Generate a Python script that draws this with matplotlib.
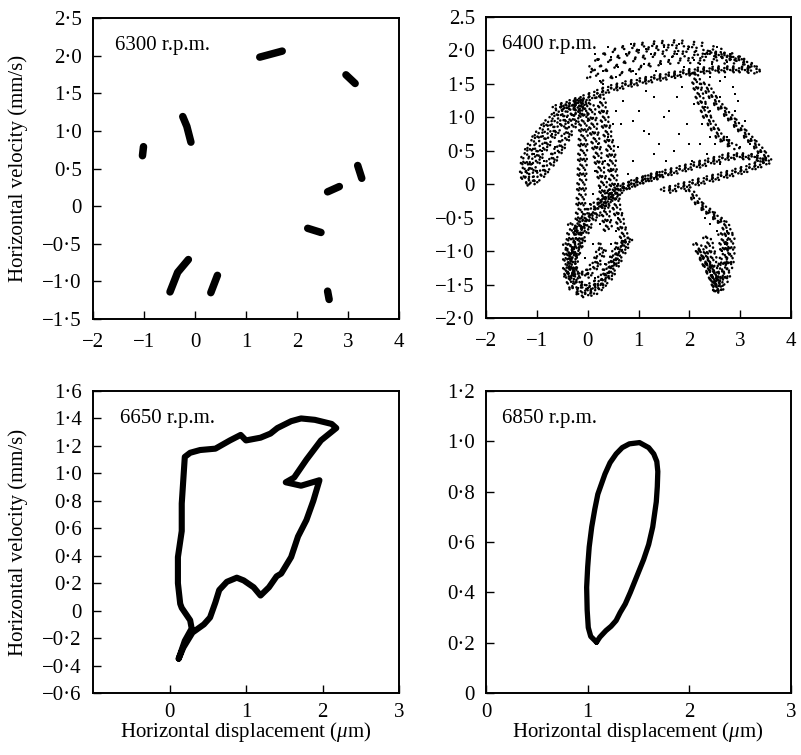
import matplotlib
matplotlib.use("Agg")
import matplotlib.pyplot as plt
import matplotlib.transforms as mtransforms

plt.rcParams["font.family"] = ["Liberation Serif", "DejaVu Serif"]
plt.rcParams["mathtext.fontset"] = "custom"
plt.rcParams["mathtext.rm"] = "Liberation Serif"
plt.rcParams["mathtext.it"] = "Liberation Serif:italic"
plt.rcParams["font.size"] = 15

# ---------------- 6300 r.p.m.: short trajectory fragments (x, y) ----------------
seg_6300 = [
    [(1.27, 1.98), (1.49, 2.02), (1.71, 2.06)],
    [(2.96, 1.745), (3.14, 1.63)],
    [(-0.24, 1.19), (-0.16, 1.06), (-0.08, 0.85)],
    [(-1.01, 0.79), (-1.03, 0.67)],
    [(3.19, 0.54), (3.27, 0.37)],
    [(2.60, 0.19), (2.83, 0.26)],
    [(2.21, -0.295), (2.47, -0.35)],
    [(-0.13, -0.71), (-0.34, -0.88), (-0.49, -1.14)],
    [(0.44, -0.92), (0.31, -1.15)],
    [(2.60, -1.13), (2.63, -1.24)],
]

# ---------------- 6400 r.p.m.: dense bands of the attractor ----------------
bands_6400 = [
    # upper crossing band
    [(-0.63, 1.13), (-0.3, 1.22), (0.0, 1.3), (0.4, 1.42), (0.8, 1.5), (1.3, 1.58),
     (1.8, 1.65), (2.2, 1.7), (2.6, 1.72), (3.0, 1.72), (3.3, 1.70)],
    # hook at the top right
    [(2.4, 1.95), (2.7, 1.93), (2.95, 1.88), (3.15, 1.8), (3.3, 1.72)],
    # left tongue, outer edge
    [(-0.1, 1.25), (-0.5, 1.12), (-0.8, 0.9), (-1.05, 0.65), (-1.22, 0.4),
     (-1.25, 0.15), (-1.2, 0.0)],
    # left tongue, inner edge
    [(-1.15, 0.0), (-0.95, 0.12), (-0.75, 0.3), (-0.5, 0.6), (-0.3, 0.9), (-0.1, 1.2)],
    # left tongue, middle
    [(-1.15, 0.15), (-0.95, 0.45), (-0.7, 0.75), (-0.4, 1.0), (-0.15, 1.2)],
    # vertical strand near x = 0
    [(-0.1, 1.25), (-0.08, 0.9), (-0.1, 0.5), (-0.12, 0.0), (-0.15, -0.5),
     (-0.2, -0.9), (-0.3, -1.2), (-0.38, -1.4)],
    # second vertical strand
    [(0.05, 1.2), (0.12, 0.8), (0.2, 0.4), (0.3, 0.0), (0.35, -0.4), (0.4, -0.7)],
    # third, fainter vertical strand
    [(0.25, 1.3), (0.35, 0.9), (0.45, 0.5), (0.5, 0.1), (0.55, -0.3), (0.65, -0.6),
     (0.75, -0.9)],
    # lower diagonal band
    [(-0.3, -1.1), (0.0, -0.6), (0.3, -0.3), (0.7, -0.05), (1.2, 0.1), (1.7, 0.2),
     (2.2, 0.3), (2.8, 0.42), (3.2, 0.42), (3.55, 0.35)],
    # companion of the diagonal band
    [(-0.2, -0.7), (0.1, -0.35), (0.5, -0.1), (1.0, 0.05), (1.5, 0.15)],
    # right descending band
    [(2.3, 1.5), (2.5, 1.25), (2.8, 1.0), (3.1, 0.75), (3.35, 0.55), (3.55, 0.35)],
    [(2.1, 1.65), (2.2, 1.3), (2.35, 1.0), (2.6, 0.7), (2.9, 0.55)],
    # lower parallel band
    [(1.5, -0.1), (2.0, 0.0), (2.5, 0.1), (3.0, 0.2), (3.5, 0.33)],
    # bottom-left lobe outline
    [(-0.4, -0.9), (-0.4, -1.3), (-0.3, -1.55), (-0.1, -1.65), (0.15, -1.6),
     (0.4, -1.4), (0.6, -1.1), (0.8, -0.8)],
    [(-0.3, -0.6), (-0.35, -1.0), (-0.25, -1.45), (0.0, -1.55), (0.25, -1.45),
     (0.5, -1.15), (0.65, -0.85)],
    # inner U of the lobe
    [(-0.35, -1.25), (-0.2, -1.35), (0.0, -1.35), (0.2, -1.15), (0.3, -0.9)],
    # right tail
    [(2.0, -0.1), (2.2, -0.3), (2.45, -0.45), (2.7, -0.6), (2.8, -0.8), (2.8, -1.1),
     (2.7, -1.4), (2.55, -1.6)],
    [(2.2, -1.0), (2.4, -1.3), (2.55, -1.55)],
    [(2.35, -0.8), (2.45, -1.1), (2.55, -1.6)],
    [(2.65, -0.75), (2.7, -1.05), (2.6, -1.45)],
    [(2.15, -0.9), (2.35, -1.2), (2.5, -1.45), (2.55, -1.6)],
]

# looser arcs forming the hat at the top
hat_arcs_6400 = [
    [(0.05, 1.6), (0.1, 1.8), (0.3, 1.95), (0.7, 2.05), (1.2, 2.1), (1.7, 2.12),
     (2.2, 2.08), (2.6, 1.98), (3.0, 1.85)],
    [(0.1, 1.7), (0.5, 1.88), (1.0, 2.0), (1.5, 2.05), (2.0, 2.02), (2.5, 1.92),
     (2.9, 1.8)],
    [(0.2, 1.65), (0.8, 1.85), (1.4, 1.95), (2.0, 1.95), (2.6, 1.85)],
    [(0.3, 1.55), (0.8, 1.7), (1.3, 1.8), (1.8, 1.85), (2.3, 1.85)],
]

# scattered points of the attractor between the bands
sparse_x = [0.4, 0.35, 0.9, 1.1, 1.2, 1.5, 1.6, 1.3, 0.7, 0.55, 0.9, 1.8, 2.0, 1.7,
            1.95, 2.1, 0.6, 1.4, 1.0, 1.75, 0.5, 2.05, 1.3, 0.8, 1.55, 2.25, 2.4,
            1.15, 0.65, 1.85, 2.3, 0.3, 1.05, 1.45, 2.6, 2.9, 0.95, 1.65,
            # hat
            0.2, 0.3, 0.45, 0.6, 0.75, 0.9, 1.0, 1.1, 1.25, 1.35, 1.5, 1.6, 1.75,
            1.9, 2.0, 2.1, 2.3, 2.45, 2.55, 2.7, 2.85, 2.4, 0.25, 0.55, 0.85, 1.3,
            1.8, 0.15, 0.4, 1.15, 2.2, 2.75,
            # lower centre and lobe
            0.45, 0.6, 0.5, 0.6, 0.25, 0.1, 0.45, 0.55, 0.15, 0.3, -0.2, -0.3,
            0.05, 0.2, 0.15, -0.05, 0.35, 0.0, 0.5, -0.25, 0.1, 0.25,
            # left tongue
            -1.1, -0.9, -0.7, -0.55, -1.0, -0.85, -0.4, -1.15, -0.65, -1.05,
            # right side
            2.6, 2.9, 3.1, 2.75, 3.0, 2.5, 3.3, 2.6, 2.4, 2.2, 3.2, 2.95, 2.35,
            # tail
            2.1, 2.3, 2.55, 2.7, 2.6, 2.45, 2.65, 2.4, 2.5, 2.6, 2.75, 2.35]
sparse_y = [0.7, 0.35, 0.95, 0.8, 0.75, 1.0, 1.1, 1.3, 1.25, 1.1, 0.35, 0.75, 0.6,
            0.5, 0.9, 1.2, 0.55, 0.6, 1.1, 1.3, 0.9, 0.35, 0.45, 0.15, 0.35, 0.9,
            0.7, 1.4, 0.9, 1.45, 1.15, 1.5, 1.75, 1.8, 1.55, 1.35, 1.65, 1.9,
            # hat
            1.85, 1.7, 1.9, 1.75, 1.95, 1.7, 2.0, 1.8, 1.95, 1.7, 2.05, 1.85, 1.95,
            1.75, 2.05, 1.85, 1.95, 1.8, 2.05, 1.6, 1.45, 1.6, 1.55, 1.6, 2.1, 2.1,
            2.1, 1.95, 2.05, 2.02, 1.8, 1.82,
            # lower centre and lobe
            0.2, 0.0, -0.2, -0.5, -0.6, -0.9, -0.9, -0.7, -1.4, -1.5, -1.55, -1.0,
            -0.3, 0.6, 0.2, -1.1, -1.2, -1.55, -0.35, -0.7, -0.15, -0.05,
            # left tongue
            0.3, 0.5, 0.75, 0.9, 0.2, 0.35, 1.0, 0.15, 0.55, 0.45,
            # right side
            1.3, 1.1, 0.95, 0.7, 0.55, 0.6, 0.4, 0.3, 1.1, 0.6, 0.6, 1.25, 0.45,
            # tail
            -0.2, -0.5, -0.7, -0.9, -1.2, -1.35, -1.0, -0.6, -1.45, -1.45, -0.7,
            -1.2]

# ---------------- 6650 r.p.m.: closed orbit ----------------
orbit_6650_x = [0.12, 0.18, 0.30, 0.45, 0.53, 0.60, 0.65, 0.75, 0.88, 0.97, 1.10, 1.19,
                1.30, 1.40, 1.46, 1.59, 1.68, 1.79, 1.88, 1.96, 1.72, 1.52, 1.63,
                1.79, 1.98, 2.18, 2.12, 1.90, 1.72, 1.59, 1.41, 1.32, 1.19, 1.0,
                0.93, 0.79, 0.60, 0.40, 0.27, 0.20, 0.18, 0.16, 0.16, 0.11, 0.11,
                0.14, 0.16, 0.27, 0.29, 0.20, 0.12]
orbit_6650_y = [-0.35, -0.27, -0.16, -0.10, -0.05, 0.06, 0.15, 0.21, 0.24, 0.22, 0.17,
                0.11, 0.17, 0.25, 0.27, 0.39, 0.54, 0.66, 0.80, 0.95, 0.91, 0.935,
                0.97, 1.10, 1.24, 1.33, 1.36, 1.39, 1.40, 1.38, 1.33, 1.29, 1.26,
                1.24, 1.28, 1.24, 1.18, 1.17, 1.15, 1.12, 0.95, 0.78, 0.58, 0.39,
                0.20, 0.05, 0.02, -0.07, -0.13, -0.22, -0.35]

# ---------------- 6850 r.p.m.: period-one orbit ----------------
orbit_6850_x = [1.087, 1.03, 1.006, 0.995, 0.99, 1.0, 1.015, 1.04, 1.07, 1.10, 1.17,
                1.22, 1.28, 1.34, 1.41, 1.51, 1.60, 1.65, 1.68, 1.69, 1.685, 1.675,
                1.64, 1.60, 1.55, 1.47, 1.42, 1.37, 1.32, 1.28, 1.23, 1.18, 1.12,
                1.087]
orbit_6850_y = [0.202, 0.225, 0.26, 0.33, 0.42, 0.50, 0.58, 0.66, 0.73, 0.79, 0.87,
                0.915, 0.95, 0.975, 0.99, 0.995, 0.975, 0.95, 0.92, 0.88, 0.82, 0.76,
                0.66, 0.59, 0.53, 0.45, 0.40, 0.354, 0.32, 0.288, 0.265, 0.248,
                0.222, 0.202]

# ---------------- axes ticks and labels ----------------
tl_yticks = [-1.5, -1.0, -0.5, 0, 0.5, 1.0, 1.5, 2.0, 2.5]
tl_ylabels = ["\u22121\u00b75", "\u22121\u00b70", "\u22120\u00b75", "0", "0\u00b75",
              "1\u00b70", "1\u00b75", "2\u00b70", "2\u00b75"]
tr_yticks = [-2.0, -1.5, -1.0, -0.5, 0, 0.5, 1.0, 1.5, 2.0, 2.5]
tr_ylabels = ["\u22122\u00b70", "\u22121\u00b75", "\u22121\u00b70", "\u22120\u00b75", "0",
              "0\u00b75", "1\u00b70", "1\u00b75", "2\u00b70", "2.5"]
top_xticks = [-2, -1, 0, 1, 2, 3, 4]
top_xlabels = ["\u22122", "\u22121", "0", "1", "2", "3", "4"]
bl_yticks = [-0.6, -0.4, -0.2, 0, 0.2, 0.4, 0.6, 0.8, 1.0, 1.2, 1.4, 1.6]
bl_ylabels = ["\u22120\u00b76", "\u22120\u00b74", "\u22120\u00b72", "0", "0\u00b72",
              "0\u00b74", "0\u00b76", "0\u00b78", "1\u00b70", "1\u00b72", "1\u00b74",
              "1\u00b76"]
br_yticks = [0, 0.2, 0.4, 0.6, 0.8, 1.0, 1.2]
br_ylabels = ["0", "0\u00b72", "0\u00b74", "0\u00b76", "0\u00b78", "1\u00b70", "1\u00b72"]
bot_xticks = [0, 1, 2, 3]
bot_xlabels = ["0", "1", "2", "3"]

speeds = ["6300 r.p.m.", "6400 r.p.m.", "6650 r.p.m.", "6850 r.p.m."]

W, H = 801, 755
fig = plt.figure(figsize=(W / 100, H / 100), dpi=100)


def px_axes(l, r, t, b):
    return fig.add_axes([l / W, (H - b) / H, (r - l) / W, (b - t) / H])


ax_tl = px_axes(93, 399, 18, 319)
ax_tr = px_axes(486, 791, 17, 318)
ax_bl = px_axes(93, 399, 391, 693)
ax_br = px_axes(486, 791, 391, 693)


def style(ax, xlim, ylim, xt, xl, yt, yl, xpad):
    ax.set_xlim(*xlim)
    ax.set_ylim(*ylim)
    ax.set_xticks(xt)
    ax.set_xticklabels(xl)
    ax.set_yticks(yt)
    ax.set_yticklabels(yl)
    for s in ax.spines.values():
        s.set_linewidth(1.4)
    ax.tick_params(direction="in", length=5.5, width=1.0, labelsize=15)
    ax.tick_params(axis="y", pad=8)
    ax.tick_params(axis="x", pad=xpad)


style(ax_tl, (-2, 4), (-1.5, 2.5), top_xticks, top_xlabels, tl_yticks, tl_ylabels, 10)
style(ax_tr, (-2, 4), (-2.0, 2.5), top_xticks, top_xlabels, tr_yticks, tr_ylabels, 10)
style(ax_bl, (-1, 3), (-0.6, 1.6), bot_xticks, bot_xlabels, bl_yticks, bl_ylabels, 7)
style(ax_br, (0, 3), (0, 1.2), bot_xticks, bot_xlabels, br_yticks, br_ylabels, 7)

# 6300 r.p.m.
for seg in seg_6300:
    xs, ys = zip(*seg)
    ax_tl.plot(xs, ys, color="black", lw=5.4, solid_capstyle="round",
               solid_joinstyle="round")


# 6400 r.p.m.: each band drawn as several dotted passes, slightly displaced
def dotted_band(ax, band, offsets, pattern):
    xs, ys = zip(*band)
    for k, (dx, dy) in enumerate(offsets):
        tr = mtransforms.offset_copy(ax.transData, fig=fig, x=dx, y=dy, units="points")
        ax.plot(xs, ys, color="black", lw=1.8, transform=tr,
                linestyle=(k * 1.3, pattern), dash_capstyle="round")


dense_offsets = [(0, 0), (2.2, 1.0), (-2.0, -1.2), (1.0, -2.2), (-1.2, 2.0),
                 (3.2, -0.6), (-3.0, 0.8)]
loose_offsets = [(0, 0), (2.6, 1.6), (-2.4, -1.8)]
for band in bands_6400:
    dotted_band(ax_tr, band, dense_offsets, (0.1, 2.3, 0.1, 3.4))
for band in hat_arcs_6400:
    dotted_band(ax_tr, band, loose_offsets, (0.1, 3.2, 0.1, 4.6))
ax_tr.scatter(sparse_x, sparse_y, s=4.5, color="black", marker="s", linewidths=0)

# 6650 r.p.m.
ax_bl.plot(orbit_6650_x, orbit_6650_y, color="black", lw=4.4,
           solid_joinstyle="round", solid_capstyle="round")

# 6850 r.p.m.
ax_br.plot(orbit_6850_x, orbit_6850_y, color="black", lw=3.8,
           solid_joinstyle="round", solid_capstyle="round")

for ax, label, xpos in zip([ax_tl, ax_tr, ax_bl, ax_br], speeds,
                           [0.072, 0.052, 0.088, 0.052]):
    ax.text(xpos, 0.893, label, transform=ax.transAxes, fontsize=15,
            ha="left", va="baseline")

fig.text(18 / W, 1 - 168 / H, "Horizontal velocity (mm/s)", rotation=90,
         ha="center", va="center", fontsize=15)
fig.text(18 / W, 1 - 542 / H, "Horizontal velocity (mm/s)", rotation=90,
         ha="center", va="center", fontsize=15)
fig.text(246 / W, 1 - 732 / H, r"Horizontal displacement ($\mu$m)",
         ha="center", va="center", fontsize=15)
fig.text(638 / W, 1 - 732 / H, r"Horizontal displacement ($\mu$m)",
         ha="center", va="center", fontsize=15)

fig.savefig("out.png", dpi=100)
